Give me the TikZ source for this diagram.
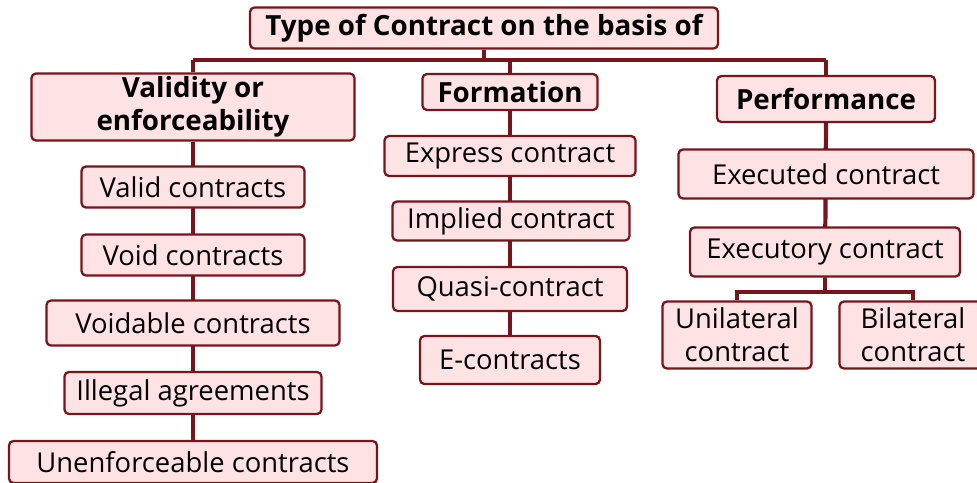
\documentclass[tikz,border=0pt]{standalone}
\usepackage{fontspec}
\setmainfont{Open Sans}
\usepackage{xcolor}
\usetikzlibrary{positioning,backgrounds}
\definecolor{darkred}{RGB}{120, 20, 28}
\definecolor{lightpink}{RGB}{255, 226, 228}

\tikzset{
  box/.style={draw=darkred, fill=lightpink, line width=1.3pt, rounded corners=2.5pt,
    inner sep=0pt, align=center, font=\fontsize{15.6}{19}\selectfont},
  headbox/.style={box, font=\fontsize{15.8}{19}\selectfont\bfseries},
  link/.style={draw=darkred, line width=2.4pt}
}

\begin{document}
\begin{tikzpicture}[x=0.02cm, y=-0.02cm]
  \useasboundingbox (0,0) rectangle (977,483);

  % Top level
  \node[headbox, minimum width=9.36cm, minimum height=0.82cm] (title) at (484,28) {Type of Contract on the basis of};

  % Bases
  \node[headbox, minimum width=6.46cm, minimum height=1.34cm] (validity) at (193,107) {Validity or\\enforceability};
  \node[headbox, minimum width=3.5cm, minimum height=0.72cm] (formation) at (510,92) {Formation};
  \node[headbox, minimum width=4.36cm, minimum height=0.92cm] (performance) at (826,99) {Performance};

  % Validity column
  \node[box, minimum width=4.46cm, minimum height=0.82cm] (valid) at (193,187) {Valid contracts};
  \node[box, minimum width=4.46cm, minimum height=0.82cm] (void) at (193,255) {Void contracts};
  \node[box, minimum width=5.86cm, minimum height=0.9cm] (voidable) at (193,323) {Voidable contracts};
  \node[box, minimum width=5.14cm, minimum height=0.84cm] (illegal) at (193,393) {Illegal agreements};
  \node[box, minimum width=7.36cm, minimum height=0.84cm] (unenf) at (193,462) {Unenforceable contracts};

  % Formation column
  \node[box, minimum width=5.02cm, minimum height=0.8cm] (express) at (510,156) {Express contract};
  \node[box, minimum width=4.74cm, minimum height=0.78cm] (implied) at (511,221) {Implied contract};
  \node[box, minimum width=4.68cm, minimum height=0.88cm] (quasi) at (510,289) {Quasi-contract};
  \node[box, minimum width=3.6cm, minimum height=0.96cm] (econ) at (510,360) {E-contracts};

  % Performance column
  \node[box, minimum width=5.9cm, minimum height=0.98cm] (executed) at (826,174) {Executed contract};
  \node[box, minimum width=5.4cm, minimum height=0.98cm] (executory) at (825,252) {Executory contract};
  \node[box, minimum width=2.98cm, minimum height=1.34cm] (unilateral) at (737,335) {Unilateral\\contract};
  \node[box, minimum width=2.94cm, minimum height=1.34cm] (bilateral) at (913,335) {Bilateral\\contract};

  % Connectors
  \coordinate (busL) at (193,60);
  \coordinate (busR) at (826,60);
  \coordinate (fork) at (825,292);
  \begin{scope}[on background layer]
    \draw[link] (title.south) -- (title.south |- busL);
    \draw[link] (busL) -- (busR);
    \draw[link] (busL) -- (validity.north);
    \draw[link] (formation.north |- busL) -- (formation.north);
    \draw[link] (busR) -- (performance.north);
    \draw[link] (validity.south) -- (unenf.north);
    \draw[link] (formation.south) -- (econ.north);
    \draw[link] (performance.south) -- (executory.south);
    \draw[link] (executory.south) -- (fork);
    \draw[link] (unilateral.north) |- (fork) -| (bilateral.north);
  \end{scope}
\end{tikzpicture}
\end{document}
